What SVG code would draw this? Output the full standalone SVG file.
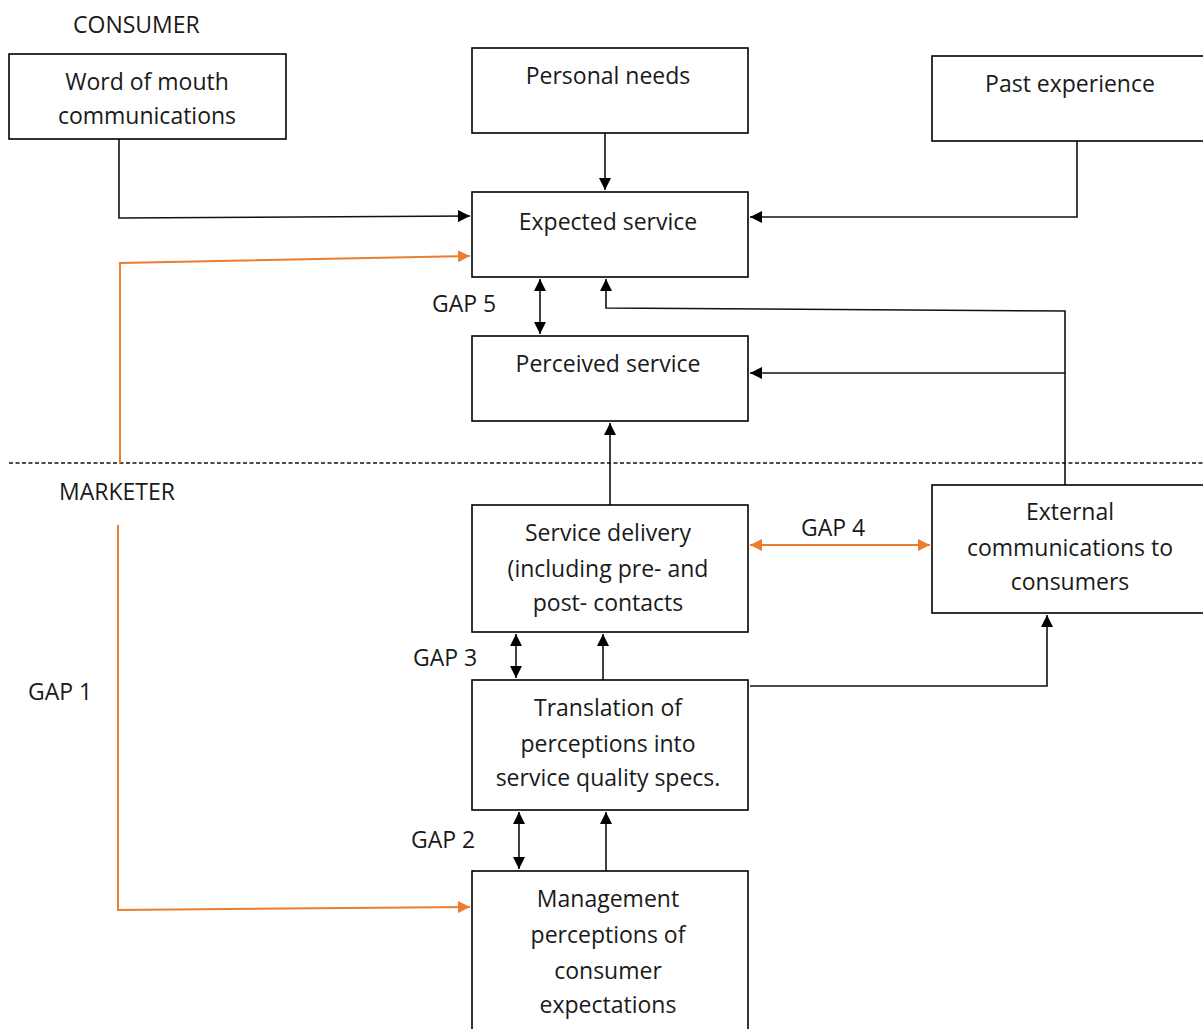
<svg xmlns="http://www.w3.org/2000/svg" width="1203" height="1029" viewBox="0 0 1203 1029">
<style>
.box{fill:#fff;stroke:#000;stroke-width:1.6}
text{font-family:"Open Sans","Noto Sans",sans-serif;font-size:23px;fill:#1a1a1a;text-anchor:middle;dominant-baseline:central}
.lbl{text-anchor:start}
.c{fill:none;stroke:#111;stroke-width:1.6}
.o{fill:none;stroke:#ED7D31;stroke-width:2}
</style>
<defs>
<marker id="ab" viewBox="0 0 10 10" refX="10" refY="5" markerWidth="13" markerHeight="12" markerUnits="userSpaceOnUse" orient="auto-start-reverse"><path d="M0,0 L10,5 L0,10 z" fill="#000"/></marker>
<marker id="ao" viewBox="0 0 10 10" refX="10" refY="5" markerWidth="13" markerHeight="12" markerUnits="userSpaceOnUse" orient="auto-start-reverse"><path d="M0,0 L10,5 L0,10 z" fill="#ED7D31"/></marker>
</defs>
<rect width="1203" height="1029" fill="#fff"/>
<text class="lbl" x="73" y="24">CONSUMER</text>
<text class="lbl" x="59" y="491">MARKETER</text>
<line x1="9" y1="463" x2="1203" y2="463" stroke="#111" stroke-width="1.3" stroke-dasharray="4,2.5"/>
<g id="connectors">
<polyline class="c" points="119,139 119,218 470,216" marker-end="url(#ab)"/>
<polyline class="o" points="120,463 120,263 470,256" marker-end="url(#ao)"/>
<line class="c" x1="605" y1="133" x2="605" y2="190" marker-end="url(#ab)"/>
<polyline class="c" points="1077,141 1077,217 750,217" marker-end="url(#ab)"/>
<line class="c" x1="540" y1="279" x2="540" y2="334" marker-start="url(#ab)" marker-end="url(#ab)"/>
<polyline class="c" points="1065,485 1065,311 606,308 606,279" marker-end="url(#ab)"/>
<polyline class="c" points="1065,373 750,373" marker-end="url(#ab)"/>
<line class="c" x1="610" y1="505" x2="610" y2="423" marker-end="url(#ab)"/>
<line class="o" x1="750" y1="545" x2="930" y2="545" marker-start="url(#ao)" marker-end="url(#ao)"/>
<line class="c" x1="516" y1="634" x2="516" y2="678" marker-start="url(#ab)" marker-end="url(#ab)"/>
<line class="c" x1="603" y1="680" x2="603" y2="634" marker-end="url(#ab)"/>
<polyline class="c" points="750,686 1047,686 1047,615" marker-end="url(#ab)"/>
<line class="c" x1="519" y1="812" x2="519" y2="869" marker-start="url(#ab)" marker-end="url(#ab)"/>
<line class="c" x1="606" y1="871" x2="606" y2="812" marker-end="url(#ab)"/>
<polyline class="o" points="118,525 118,910 470,907" marker-end="url(#ao)"/>
</g>
<text class="lbl" x="432" y="303">GAP 5</text>
<text class="lbl" x="801" y="527">GAP 4</text>
<text class="lbl" x="413" y="657">GAP 3</text>
<text class="lbl" x="28" y="691">GAP 1</text>
<text class="lbl" x="411" y="839">GAP 2</text>
<g id="word-of-mouth"><rect class="box" x="9" y="54" width="277" height="85"/><text x="147" y="81">Word of mouth</text><text x="147" y="115">communications</text></g>
<g id="personal-needs"><rect class="box" x="472" y="48" width="276" height="85"/><text x="608" y="75">Personal needs</text></g>
<g id="past-experience"><rect class="box" x="932" y="56" width="275" height="85"/><text x="1070" y="83">Past experience</text></g>
<g id="expected-service"><rect class="box" x="472" y="192" width="276" height="85"/><text x="608" y="221">Expected service</text></g>
<g id="perceived-service"><rect class="box" x="472" y="336" width="276" height="85"/><text x="608" y="363">Perceived service</text></g>
<g id="service-delivery"><rect class="box" x="472" y="505" width="276" height="127"/><text x="608" y="532">Service delivery</text><text x="608" y="568">(including pre- and</text><text x="608" y="602">post- contacts</text></g>
<g id="external-comms"><rect class="box" x="932" y="485" width="275" height="128"/><text x="1070" y="511">External</text><text x="1070" y="547">communications to</text><text x="1070" y="581">consumers</text></g>
<g id="translation"><rect class="box" x="472" y="680" width="276" height="130"/><text x="608" y="707">Translation of</text><text x="608" y="743">perceptions into</text><text x="608" y="777">service quality specs.</text></g>
<g id="management"><rect class="box" x="472" y="871" width="276" height="165"/><text x="608" y="898">Management</text><text x="608" y="934">perceptions of</text><text x="608" y="970">consumer</text><text x="608" y="1004">expectations</text></g>
</svg>
